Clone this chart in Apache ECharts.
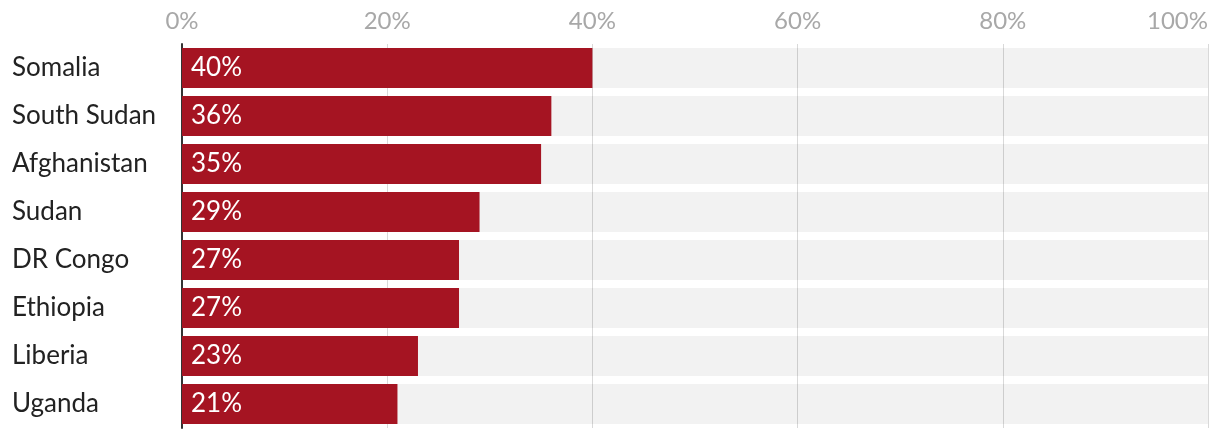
<!DOCTYPE html>
<html>
<head>
<meta charset="utf-8">
<script src="https://cdn.jsdelivr.net/npm/echarts@6/dist/echarts.min.js"></script>
<style>html,body{margin:0;padding:0;background:#fff}#c{width:1220px;height:434px}</style>
</head>
<body>
<div id="c"></div>
<script>
const categories = ["Somalia","South Sudan","Afghanistan","Sudan","DR Congo","Ethiopia","Liberia","Uganda"];
const values = [40,36,35,29,27,27,23,21];
const fullScale = [100,100,100,100,100,100,100,100];
const xTicks = [0,20,40,60,80,100];

const FONT = 'Lato, "Open Sans", sans-serif';
const chart = echarts.init(document.getElementById('c'));
chart.setOption({
  animation: false,
  grid: {left: 182, right: 12, top: 44, height: 384},
  xAxis: {
    type: 'value', position: 'top', min: xTicks[0], max: xTicks[xTicks.length-1], interval: 20,
    axisLine: {show: false}, axisTick: {show: false},
    splitLine: {show: true, lineStyle: {color: '#d9d9d9', width: 1}},
    axisLabel: {formatter: '{value}%', color: '#a8a8a8', fontSize: 24, fontFamily: FONT, margin: 11,
      alignMinLabel: 'center', alignMaxLabel: 'right'}
  },
  yAxis: {
    type: 'category', data: categories, inverse: true,
    axisLine: {show: true, lineStyle: {color: '#333', width: 2}},
    axisTick: {show: false},
    axisLabel: {align: 'left', margin: 170, color: '#222', fontSize: 26, fontFamily: FONT}
  },
  series: [
    {
      type: 'bar', data: fullScale, barWidth: 40, barGap: '-100%', silent: true, z: 1,
      itemStyle: {color: 'rgba(0,0,0,0.05)'}
    },
    {
      type: 'bar', data: values, barWidth: 40, z: 2,
      itemStyle: {color: '#A51422'},
      label: {show: true, position: 'insideLeft', distance: 9, formatter: '{c}%', color: '#fff',
        fontSize: 26, fontFamily: FONT}
    }
  ]
});
</script>
</body>
</html>
